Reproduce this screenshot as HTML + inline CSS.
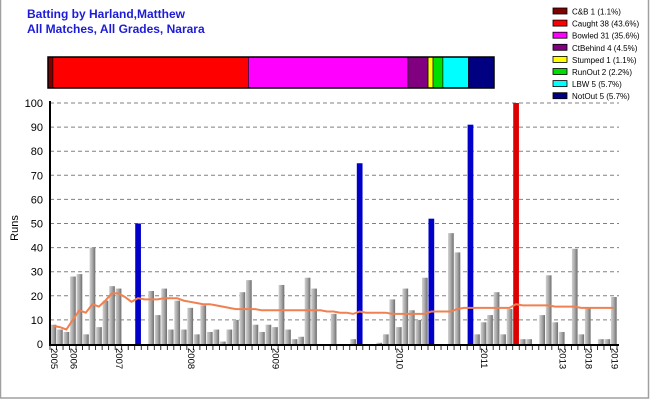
<!DOCTYPE html>
<html><head><meta charset="utf-8">
<style>
html,body{margin:0;padding:0;background:#fff;}
#wrap{position:relative;width:650px;height:400px;overflow:hidden;font-family:"Liberation Sans",Arial,sans-serif;}
</style></head>
<body>
<div id="wrap">
<svg id="svg" width="650" height="400" xmlns="http://www.w3.org/2000/svg">
  <rect x="0.5" y="-1" width="648" height="399" fill="none" stroke="#a0a0a0" stroke-width="1.5"/>
  <text x="27" y="18" font-size="12" font-weight="bold" fill="#1c1cd8">Batting by Harland,Matthew</text>
  <text x="27" y="33" font-size="12" font-weight="bold" fill="#1c1cd8">All Matches, All Grades, Narara</text>
  <g id="dismiss"></g>
  <g id="legend"></g>
  <g id="grid"></g>
  <g id="bars"></g>
  <g id="avg"></g>
  <g id="axes"></g>
  <text x="0" y="0" transform="translate(18,228) rotate(-90)" text-anchor="middle" font-size="11" fill="#000">Runs</text>
</svg>
</div>
<script>
const dismissLabels = ["C&B 1 (1.1%)","Caught 38 (43.6%)","Bowled 31 (35.6%)","CtBehind 4 (4.5%)","Stumped 1 (1.1%)","RunOut 2 (2.2%)","LBW 5 (5.7%)","NotOut 5 (5.7%)"];
const dismissPct = [1.1,43.6,35.6,4.5,1.1,2.2,5.7,5.7];
const dismissColors = ["#800000","#ff0000","#ff00ff","#800080","#ffff00","#00dd00","#00ffff","#000080"];

const runs = [8,6,5,28,29,4,40,7,18,24,23,0,0,50,0,22,12,23,6,18,6,15,4,16,5,6,1,6,10,
 21.5,26.5,8,5,8,7,24.5,6,2,3,27.5,23,0,0,12.5,0,0,2,75,0,0,0.5,4,18.5,7,23,14,10,27.5,52,
 0,0,46,38,0,91,4,9,12,21.5,4,14.5,100,2,2,0,12,28.5,9,5,0,39.5,4,15,0,2,2,19.5];
// 0 normal, 1 not out, 2 highlighted (caught 100)
const kind = [0,0,0,0,0,0,0,0,0,0,0,0,0,1,0,0,0,0,0,0,0,0,0,0,0,0,0,0,0,
 0,0,0,0,0,0,0,0,0,0,0,0,0,0,0,0,0,0,1,0,0,0,0,0,0,0,0,0,0,1,
 0,0,0,0,0,1,0,0,0,0,0,0,2,0,0,0,0,0,0,0,0,0,0,0,0,0,0,0];
const avgLine = [7.5,7,6,10,14,13,16.5,15.5,18,21,21,19.5,17.5,19,18.5,18.5,18.5,19,19,19,18,17.5,17,16.5,16.5,16,15.5,15,14.5,
 14.5,14.5,14.5,14,14,14,14,14,14,14,14,14,14,13.5,13.5,13,13,12.5,13.5,13,13,13,13,12.5,12.5,12.5,12.5,12.5,12.5,13.5,
 13.5,13.5,13.5,14.5,15,15,15,15,15,15,15,15,16.5,16,16,16,16,16,15.5,15.5,15.5,15.5,15,15,15,15,15,15];
const yTicks = [0,10,20,30,40,50,60,70,80,90,100];
const yearLabels = ["2005","2006","2007","2008","2009","2010","2011","2013","2018","2019"];
const yearIdx = [0,3,10,21,34,53,66,78,82,86];

const NS="http://www.w3.org/2000/svg";
function mk(tag,attrs,parent){const e=document.createElementNS(NS,tag);for(const k in attrs)e.setAttribute(k,attrs[k]);parent.appendChild(e);return e;}
const X0=50,X1=617,Y0=344,Y1=103;
const n=runs.length, slot=(X1-X0)/n;
const xs=i=>X0+i*slot;
const ys=v=>Y0-(v/100)*(Y0-Y1);

// dismissal bar
const dg=document.getElementById('dismiss');
const total=dismissPct.reduce((a,b)=>a+b,0);
let cx=48; const BW=446;
dismissPct.forEach((p,i)=>{
  const w=p/total*BW;
  const r=mk('rect',{x:cx,y:57,width:w,height:31,fill:dismissColors[i],stroke:'#000','stroke-width':0.6},dg);
  
  
  cx+=w;
});
const db=mk('rect',{x:48,y:57,width:BW,height:31,fill:'none',stroke:'#000','stroke-width':1.5},dg);



// legend
const lg=document.getElementById('legend');
dismissLabels.forEach((t,i)=>{
  const y=8+i*12.1;
  const s=mk('rect',{x:553,y:y,width:14,height:6,fill:dismissColors[i],stroke:'#000','stroke-width':0.8},lg);
  
  
  const tx=mk('text',{x:572,y:y+6.5,'font-size':8,fill:'#000'},lg);
  tx.textContent=t;
  
  
});

// grid + y labels
const gg=document.getElementById('grid');
yTicks.forEach(v=>{
  if(v>0){
    const l=mk('line',{x1:X0,x2:X1+2,y1:ys(v),y2:ys(v),stroke:'#808080','stroke-width':1,'stroke-dasharray':'4,3'},gg);
    
    
  }
  const t=mk('text',{x:43,y:ys(v)+4,'font-size':11,'text-anchor':'end',fill:'#000'},gg);
  t.textContent=v;
  
  
});

// bars
const bg=document.getElementById('bars');
const gd=mk('defs',{},bg);
const grad=mk('linearGradient',{id:'gg',x1:0,x2:1,y1:0,y2:0},gd);
mk('stop',{offset:'0','stop-color':'#d0d0d0'},grad);
mk('stop',{offset:'0.5','stop-color':'#a8a8a8'},grad);
mk('stop',{offset:'1','stop-color':'#6e6e6e'},grad);
runs.forEach((v,i)=>{
  if(v<=0) return;
  const fill=kind[i]===1?'#0000c8':(kind[i]===2?'#dd0000':'url(#gg)');
  const r=mk('rect',{x:xs(i)+0.5,y:ys(v),width:slot-0.8,height:Y0-ys(v),fill:fill},bg);
  
  
});

// average line
const ag=document.getElementById('avg');
const pts=avgLine.map((v,i)=>(xs(i)+slot/2).toFixed(1)+','+ys(v).toFixed(1)).join(' ');
const pl=mk('polyline',{points:pts,fill:'none',stroke:'#f08050','stroke-width':2},ag);



// axes
const ax=document.getElementById('axes');
const ya=mk('line',{x1:X0,x2:X0,y1:Y1-2,y2:Y0+1,stroke:'#000','stroke-width':2},ax);


const xa=mk('line',{x1:X0-1,x2:X1+2,y1:Y0+1,y2:Y0+1,stroke:'#000','stroke-width':2},ax);


for(let i=0;i<=n;i++){
  const t=mk('line',{x1:xs(i),x2:xs(i),y1:Y0+2,y2:Y0+6,stroke:'#000','stroke-width':0.8},ax);
  
  
}
yearLabels.forEach((lab,k)=>{
  const x=xs(yearIdx[k])+1;
  const t=mk('text',{x:0,y:0,transform:'translate('+x+',348) rotate(90)','font-size':9.5,fill:'#000'},ax);
  t.textContent=lab;
  
  
});
</script>
</body></html>
